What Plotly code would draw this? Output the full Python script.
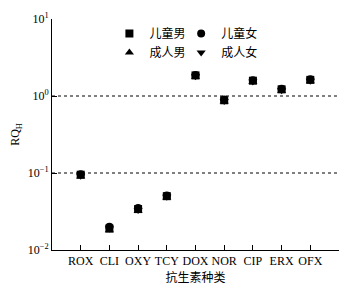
import plotly.graph_objects as go

categories = ["ROX", "CLI", "OXY", "TCY", "DOX", "NOR", "CIP", "ERX", "OFX"]
boy = [0.095, 0.019, 0.034, 0.050, 1.85, 0.88, 1.58, 1.22, 1.62]
girl = [0.096, 0.020, 0.035, 0.051, 1.88, 0.90, 1.60, 1.24, 1.65]
man = [0.090, 0.018, 0.032, 0.048, 1.78, 0.85, 1.52, 1.17, 1.56]
woman = [0.092, 0.019, 0.033, 0.049, 1.80, 0.86, 1.54, 1.19, 1.58]
series_names = ["儿童男", "儿童女", "成人男", "成人女"]
ref_lines = [1, 0.1]
y_tickvals = [0.01, 0.1, 1, 10]
y_ticktext = ["10<sup>−2</sup>", "10<sup>−1</sup>", "10<sup>0</sup>", "10<sup>1</sup>"]

xpos = list(range(1, len(categories) + 1))
serif = "Liberation Serif, Times New Roman, serif"
cjk = "Noto Sans CJK SC"

fig = go.Figure()
specs = [(boy, "square", "legend"), (girl, "circle", "legend2"),
         (man, "triangle-up", "legend"), (woman, "triangle-down", "legend2")]
for (vals, sym, lg), name in zip(specs, series_names):
    fig.add_trace(go.Scatter(
        x=xpos, y=vals, mode="markers", name=name, legend=lg,
        marker=dict(symbol=sym, size=8, color="black"),
    ))

for v in ref_lines:
    fig.add_shape(type="line", xref="x", yref="y", x0=0, x1=9.93, y0=v, y1=v,
                  line=dict(color="black", width=1, dash="dot"))

fig.update_layout(
    width=348, height=286,
    margin=dict(l=44, r=17, t=11, b=44, autoexpand=False),
    paper_bgcolor="white", plot_bgcolor="white",
    font=dict(family=serif, size=12, color="black"),
    showlegend=True,
    legend=dict(x=0.2, y=1.0, xanchor="left", yanchor="top",
                font=dict(family=cjk, size=12), bgcolor="rgba(0,0,0,0)",
                tracegroupgap=0, itemwidth=30),
    legend2=dict(x=0.45, y=1.0, xanchor="left", yanchor="top",
                 font=dict(family=cjk, size=12), bgcolor="rgba(0,0,0,0)",
                 tracegroupgap=0, itemwidth=30),
    xaxis=dict(range=[0, 10], tickvals=xpos + [10], ticktext=categories + [""],
               ticks="inside", ticklen=5, tickcolor="black", showline=True,
               linecolor="black", linewidth=1, showgrid=False, zeroline=False,
               automargin=False,
               title=dict(text="抗生素种类", font=dict(family=cjk, size=12), standoff=6),
               tickfont=dict(family=serif, size=12)),
    yaxis=dict(type="log", range=[-2, 1], tickvals=y_tickvals, ticktext=y_ticktext,
               ticks="inside", ticklen=5, tickcolor="black", showline=True,
               linecolor="black", linewidth=1, showgrid=False, zeroline=False,
               automargin=False,
               title=dict(text="RQ<sub>H</sub>", font=dict(family=serif, size=12), standoff=8),
               tickfont=dict(family=serif, size=12)),
)

fig.write_html("out.html")
